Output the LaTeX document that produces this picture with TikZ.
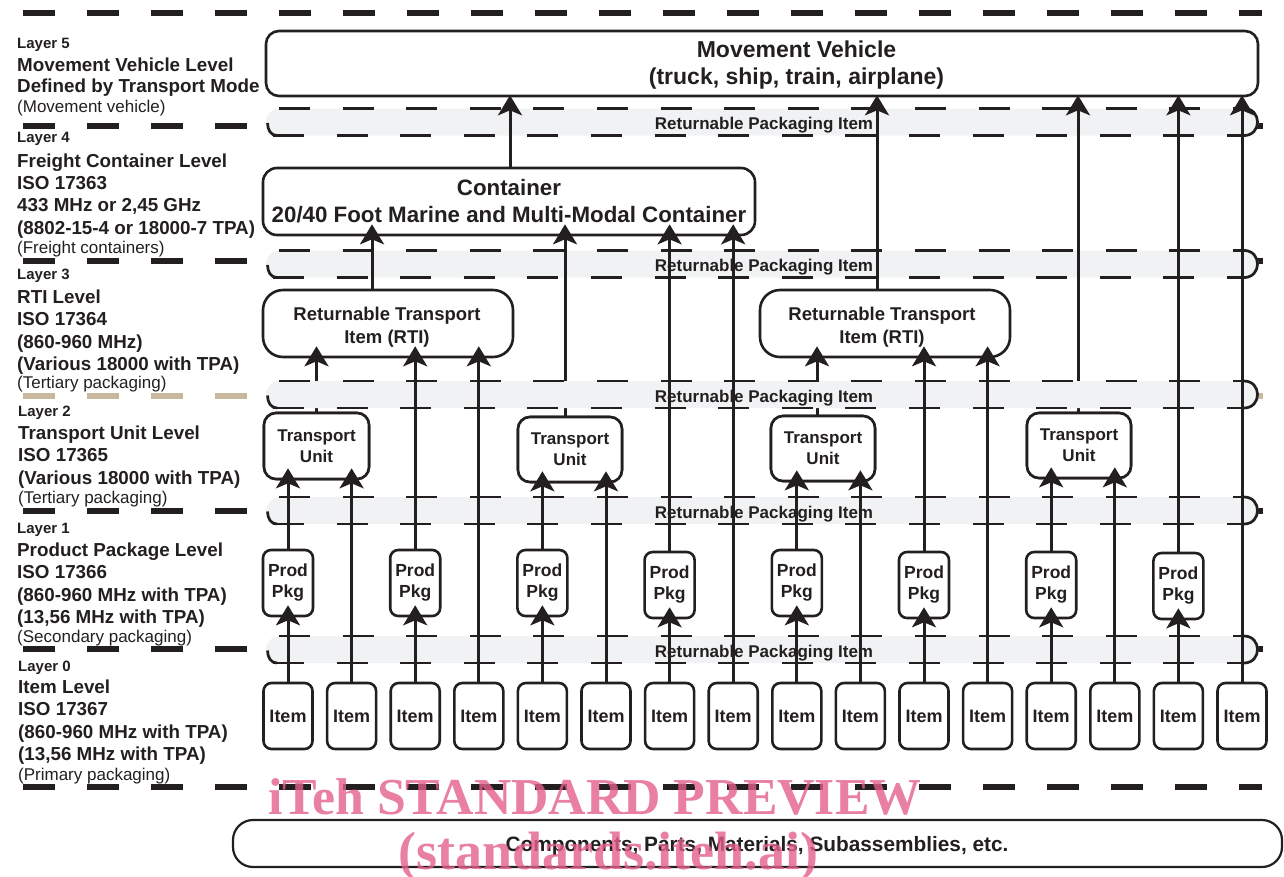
\documentclass[tikz,border=0pt]{standalone}
\usepackage{fontspec}
\setmainfont{Liberation Sans}
\newfontfamily\wmfont{Liberation Serif}
\usetikzlibrary{arrows.meta,calc}
\definecolor{ink}{HTML}{231F20}
\definecolor{tanline}{HTML}{C8B89E}
\definecolor{bandgray}{HTML}{F1F2F3}
\definecolor{wmpink}{RGB}{228,95,138}
\newcommand{\myfs}[2]{\fontsize{#1}{#2}\selectfont}
\tikzset{
  sep/.style={line width=5.5pt, dash pattern=on 32pt off 32pt, draw=ink},
  tansep/.style={sep, draw=tanline},
  banddash/.style={line width=2.7pt, dash pattern=on 31pt off 32.6pt, draw=ink},
  bandline/.style={line width=2.7pt, draw=ink},
  bandtext/.style={anchor=base, inner sep=0pt, font=\myfs{17}{20}\bfseries, text=ink},
  box/.style={draw=ink, line width=2.6pt, fill=white, inner sep=0pt, text=ink, align=center},
  itembox/.style={box, rounded corners=8pt, minimum width=49pt, minimum height=66pt, font=\myfs{18}{22}\bfseries},
  ppbox/.style={box, rounded corners=8pt, minimum width=50pt, minimum height=66pt, font=\myfs{17.5}{21}\bfseries},
  tubox/.style={box, rounded corners=12pt, minimum width=104pt, minimum height=65pt, font=\myfs{17}{21}\bfseries},
  rtibox/.style={box, rounded corners=20pt, minimum width=250pt, minimum height=67pt},
  boxtext/.style={inner sep=0pt, align=center, text=ink},
  ln/.style={line width=3pt, draw=ink},
  arr/.style={line width=3pt, draw=ink, -{Stealth[length=20pt,width=24pt,inset=5pt]}},
  lay/.style={anchor=base west, inner sep=0pt, text=ink, font=\myfs{15}{18}\bfseries},
  big/.style={anchor=base west, inner sep=0pt, text=ink, font=\myfs{18.8}{22}\bfseries},
  reg/.style={anchor=base west, inner sep=0pt, text=ink, font=\myfs{17}{20}},
  wm/.style={anchor=base west, inner sep=0pt, text=wmpink, text opacity=0.8}
}
\newcommand{\rpiband}[2]{%
  \fill[bandgray, rounded corners=13.5pt] (266,#1-13.5) rectangle (1258.5,#1+13.5);
  \draw[banddash] (279,#1-13.5) -- (1246,#1-13.5);
  \draw[banddash] (273,#1+13.5) -- (1246,#1+13.5);
  \draw[bandline] (1244,#1-13.5) .. controls (1262,#1-13.5) and (1262,#1+13.5) .. (1244,#1+13.5);
  \draw[bandline] (267.5,#1+1) .. controls (267.5,#1+8) and (271,#1+13.5) .. (277,#1+13.5);
  \node[bandtext] (#2) at (764,#1+7.5) {Returnable Packaging Item};
}
\begin{document}
\begin{tikzpicture}[x=1pt,y=-1pt]
\useasboundingbox (0,0) rectangle (1284,876);

% layer separators
\draw[sep] (23,13) -- (1262,13);
\draw[sep] (23,126) -- (1262.5,126);
\draw[sep] (23,261) -- (1262.5,261);
\draw[tansep] (23,396) -- (1262.5,396);
\draw[sep] (23,511) -- (1262.5,511);
\draw[sep] (23,649) -- (1262.5,649);
\draw[sep] (23,787) -- (1262,787);

% returnable packaging bands
\rpiband{122}{bt1}
\rpiband{264}{bt2}
\rpiband{510.5}{bt4}
\rpiband{649.5}{bt5}

% boxes (nodes)
\foreach \i in {1,...,16} {
  \node[itembox] (item\i) at ({288+(\i-1)*63.6},716) {Item};
}
\foreach \i/\yy in {1/583,3/583,5/583,7/585,9/583,11/585,13/585,15/586} {
  \node[ppbox] (pp\i) at ({288+(\i-1)*63.6},\yy) {Prod\\Pkg};
}
\node[tubox, minimum width=105pt, minimum height=66pt] (tu1) at (316.5,446) {Transport\\Unit};
\node[tubox] (tu2) at (570,449.5) {Transport\\Unit};
\node[tubox] (tu3) at (823,448.5) {Transport\\Unit};
\node[tubox] (tu4) at (1079,445.5) {Transport\\Unit};

% transport unit connectors pass under band 3
\coordinate (b3t) at (0,381);
\draw[ln] (tu1.north) -- (tu1.north |- b3t);
\draw[ln] ($(tu2.north)+(-5,0)$) -- ($(tu2.north |- b3t)+(-5,0)$);
\draw[ln] ($(tu3.north)+(-6,0)$) -- ($(tu3.north |- b3t)+(-6,0)$);
\draw[ln] ($(tu4.north)+(-1,0)$) -- ($(tu4.north |- b3t)+(-1,0)$);
\rpiband{394.5}{bt3}
\node[tubox, minimum width=105pt, minimum height=66pt] at (tu1) {Transport\\Unit};
\node[tubox] at (tu2) {Transport\\Unit};
\node[tubox] at (tu3) {Transport\\Unit};
\node[tubox] at (tu4) {Transport\\Unit};

\node[rtibox] (rti1) at (388,323.5) {};
\node[boxtext, font=\myfs{18.5}{23}\bfseries] (rti1t) at (387,327) {Returnable Transport\\Item (RTI)};
\node[rtibox] (rti2) at (885,323.5) {};
\node[boxtext, font=\myfs{18.5}{23}\bfseries] (rti2t) at (882,327) {Returnable Transport\\Item (RTI)};

\node[box, rounded corners=14pt, minimum width=492pt, minimum height=67pt, font=\myfs{22.3}{27}\bfseries] (cont) at (509,201.5) {Container\\20/40 Foot Marine and Multi-Modal Container};

\node[box, rounded corners=13pt, minimum width=992pt, minimum height=65pt] (mv) at (762,63.5) {};
\node[boxtext, font=\myfs{23}{27}\bfseries] (mvt) at (796.5,65) {Movement Vehicle\\(truck, ship, train, airplane)};

\node[box, line width=2.2pt, rounded corners=20pt, minimum width=1049pt, minimum height=47pt] (comp) at (757.5,843.5) {};
\node[boxtext, font=\myfs{20.8}{24}\bfseries] (compt) at (757,846) {Components, Parts, Materials, Subassemblies, etc.};

% connectors: items to product packages
\foreach \i in {1,3,...,15} {
  \draw[arr] (item\i.north) -- ($(pp\i.south)+(0,-12)$);
}
% to transport units
\draw[arr] (pp1.north) -- ($(pp1.north |- tu1.south)+(0,-12)$);
\draw[arr] (item2.north) -- ($(item2.north |- tu1.south)+(0,-12)$);
\draw[arr] (pp5.north) -- ($(pp5.north |- tu2.south)+(0,-12)$);
\draw[arr] (item6.north) -- ($(item6.north |- tu2.south)+(0,-12)$);
\draw[arr] (pp9.north) -- ($(pp9.north |- tu3.south)+(0,-12)$);
\draw[arr] (item10.north) -- ($(item10.north |- tu3.south)+(0,-12)$);
\draw[arr] (pp13.north) -- ($(pp13.north |- tu4.south)+(0,-12)$);
\draw[arr] (item14.north) -- ($(item14.north |- tu4.south)+(0,-12)$);
% to RTI 1
\draw[arr] (tu1.north |- b3t) -- ($(tu1.north |- rti1.south)+(0,-12)$);
\draw[arr] (pp3.north) -- ($(pp3.north |- rti1.south)+(0,-12)$);
\draw[arr] (item4.north) -- ($(item4.north |- rti1.south)+(0,-12)$);
% to RTI 2
\draw[arr] ($(tu3.north |- b3t)+(-6,0)$) -- ($(tu3.north |- rti2.south)+(-6,-12)$);
\draw[arr] (pp11.north) -- ($(pp11.north |- rti2.south)+(0,-12)$);
\draw[arr] (item12.north) -- ($(item12.north |- rti2.south)+(0,-12)$);
% to container
\draw[arr] ($(rti1.north)+(-16,0)$) -- ($(rti1.north |- cont.south)+(-16,-12)$);
\draw[arr] ($(tu2.north |- b3t)+(-5,0)$) -- ($(tu2.north |- cont.south)+(-5,-12)$);
\draw[arr] (pp7.north) -- ($(pp7.north |- cont.south)+(0,-12)$);
\draw[arr] (item8.north) -- ($(item8.north |- cont.south)+(0,-12)$);
% to movement vehicle
\draw[arr] ($(cont.north)+(1,0)$) -- ($(cont.north |- mv.south)+(1,-2)$);
\draw[arr] ($(rti2.north)+(-8,0)$) -- ($(rti2.north |- mv.south)+(-8,-2)$);
\draw[arr] ($(tu4.north |- b3t)+(-1,0)$) -- ($(tu4.north |- mv.south)+(-1,-2)$);
\draw[arr] (pp15.north) -- ($(pp15.north |- mv.south)+(0,-2)$);
\draw[arr] (item16.north) -- ($(item16.north |- mv.south)+(0,-2)$);

% layer labels
\node[lay] (l5a) at (17,48.5) {Layer 5};
\node[big] (l5b) at (17,71.5) {Movement Vehicle Level};
\node[big] (l5c) at (17,92.5) {Defined by Transport Mode};
\node[reg] (l5d) at (17,112) {(Movement vehicle)};

\node[lay] (l4a) at (17,142.5) {Layer 4};
\node[big] (l4b) at (17,167) {Freight Container Level};
\node[big] (l4c) at (17,189.5) {ISO 17363};
\node[big] (l4d) at (17,211.5) {433 MHz or 2,45 GHz};
\node[big] (l4e) at (17,234) {(8802-15-4 or 18000-7 TPA)};
\node[reg] (l4f) at (17,253.5) {(Freight containers)};

\node[lay] (l3a) at (17,279) {Layer 3};
\node[big] (l3b) at (17,303) {RTI Level};
\node[big] (l3c) at (17,325.5) {ISO 17364};
\node[big] (l3d) at (17,348) {(860-960 MHz)};
\node[big] (l3e) at (17,370.5) {(Various 18000 with TPA)};
\node[reg] (l3f) at (17,388.5) {(Tertiary packaging)};

\node[lay] (l2a) at (18,416) {Layer 2};
\node[big] (l2b) at (18,439.5) {Transport Unit Level};
\node[big] (l2c) at (18,461.5) {ISO 17365};
\node[big] (l2d) at (18,484) {(Various 18000 with TPA)};
\node[reg] (l2e) at (18,503) {(Tertiary packaging)};

\node[lay] (l1a) at (17,533) {Layer 1};
\node[big] (l1b) at (17,556) {Product Package Level};
\node[big] (l1c) at (17,578.5) {ISO 17366};
\node[big] (l1d) at (17,601) {(860-960 MHz with TPA)};
\node[big] (l1e) at (17,623.5) {(13,56 MHz with TPA)};
\node[reg] (l1f) at (17,642) {(Secondary packaging)};

\node[lay] (l0a) at (18,671) {Layer 0};
\node[big] (l0b) at (18,693.5) {Item Level};
\node[big] (l0c) at (18,715.5) {ISO 17367};
\node[big] (l0d) at (18,738) {(860-960 MHz with TPA)};
\node[big] (l0e) at (18,760.5) {(13,56 MHz with TPA)};
\node[reg] (l0f) at (18,780) {(Primary packaging)};

% watermark
\node[wm, font=\wmfont\myfs{51.8}{56}\bfseries] (wm1) at (268,814) {iTeh STANDARD PREVIEW};
\node[wm, font=\wmfont\myfs{54}{58}\bfseries] (wm2) at (398,869) {(standards.iteh.ai)};
\end{tikzpicture}
\end{document}
